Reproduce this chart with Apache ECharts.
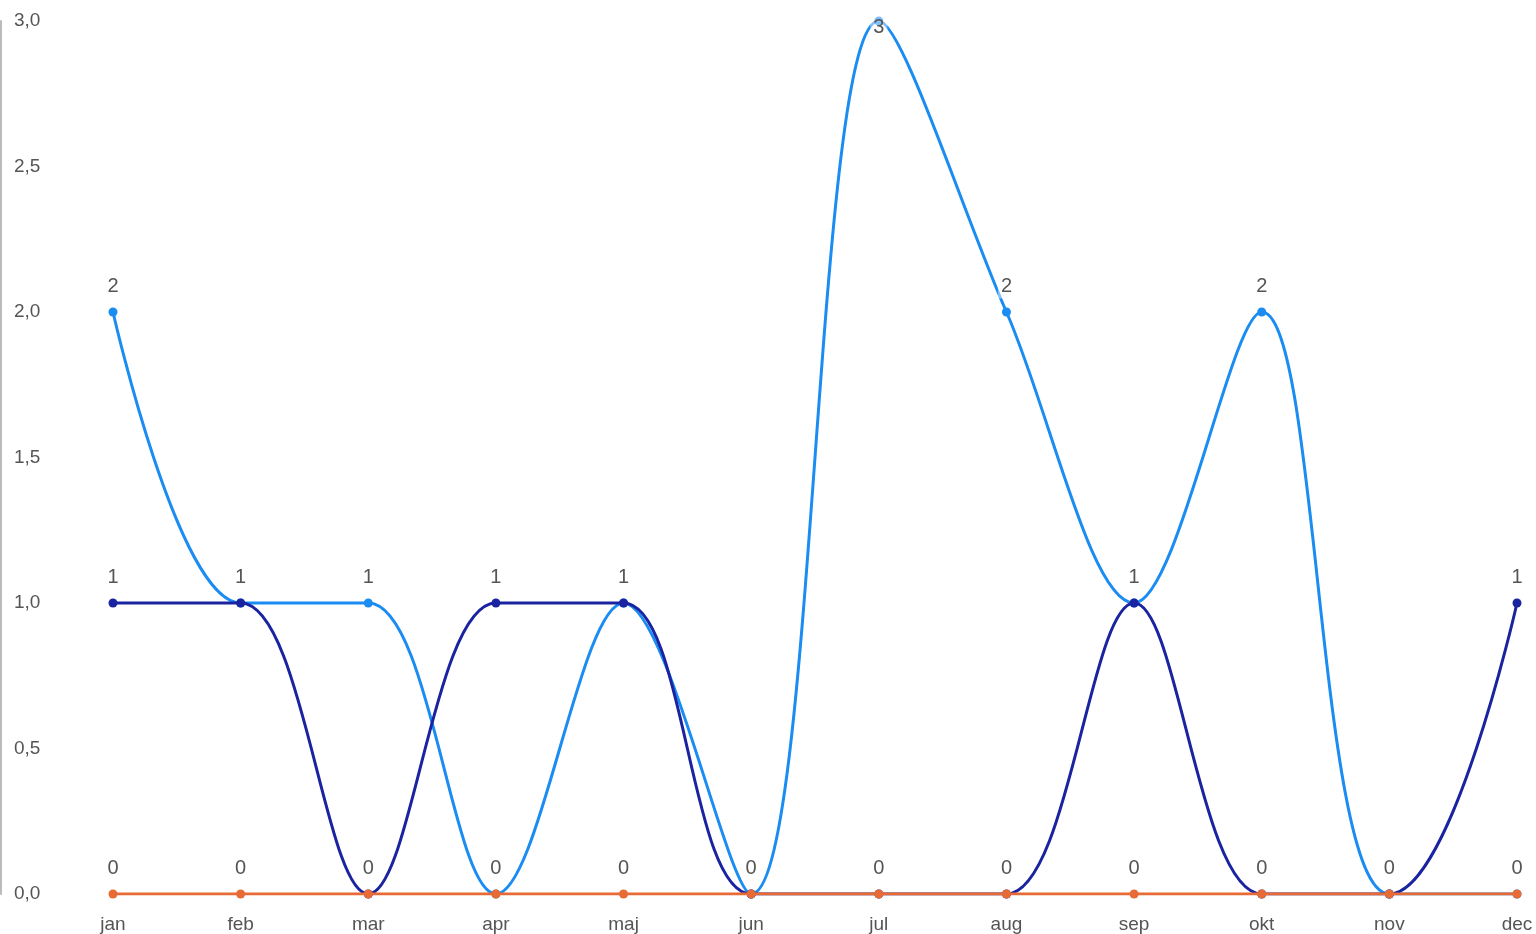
<!DOCTYPE html>
<html><head><meta charset="utf-8">
<script src="https://cdn.jsdelivr.net/npm/echarts@6/dist/echarts.min.js"></script>
<style>html,body{margin:0;padding:0;background:#fff}#c{width:1536px;height:934px}</style>
</head><body><div id="c"></div>
<script>
const months = ['jan','feb','mar','apr','maj','jun','jul','aug','sep','okt','nov','dec'];
const seriesA = [2,1,1,0,1,0,3,2,1,2,0,0];
const seriesB = [1,1,0,1,1,0,0,0,1,0,0,1];
const seriesC = [0,0,0,0,0,0,0,0,0,0,0,0];
const colors = ['#1a8cf2','#1a24a0','#e86a35'];

const font = 'Liberation Sans, Arial, sans-serif';
function mk(name, data, color, z) {
  return {
    name, type: 'line', smooth: 0.34, data, z,
    symbol: 'circle', symbolSize: 9,
    lineStyle: { width: 3, color }, itemStyle: { color },
    label: {
      show: true, position: 'top', distance: 9, color: '#555', fontSize: 20, fontFamily: font,
      backgroundColor: 'rgba(255,255,255,0.45)', padding: [2, 3]
    },
    labelLayout: function (p) {
      if (p.labelRect.y < 10) {
        return {
          x: p.rect.x + p.rect.width / 2, y: p.rect.y + p.rect.height / 2 + 6,
          align: 'center', verticalAlign: 'middle', hideOverlap: true
        };
      }
      return { hideOverlap: true };
    },
    emphasis: { disabled: true }
  };
}
const chart = echarts.init(document.getElementById('c'));
chart.setOption({
  animation: false,
  grid: { left: 113, right: 19, top: 21, bottom: 35 },
  xAxis: {
    type: 'category', data: months, boundaryGap: false,
    axisLine: { show: false }, axisTick: { show: false },
    axisLabel: { color: '#555', fontSize: 19, fontFamily: font, margin: 21 }
  },
  yAxis: {
    type: 'value', min: 0, max: 3, interval: 0.5, offset: 112,
    axisLine: { show: true, lineStyle: { color: '#bbb', width: 2 } },
    axisTick: { show: false }, splitLine: { show: false },
    axisLabel: { inside: true, margin: 13, color: '#555', fontSize: 19, fontFamily: font,
      formatter: v => v.toFixed(1).replace('.', ',') }
  },
  series: [mk('A', seriesA, colors[0], 2), mk('B', seriesB, colors[1], 3), mk('C', seriesC, colors[2], 4)]
});
</script></body></html>
